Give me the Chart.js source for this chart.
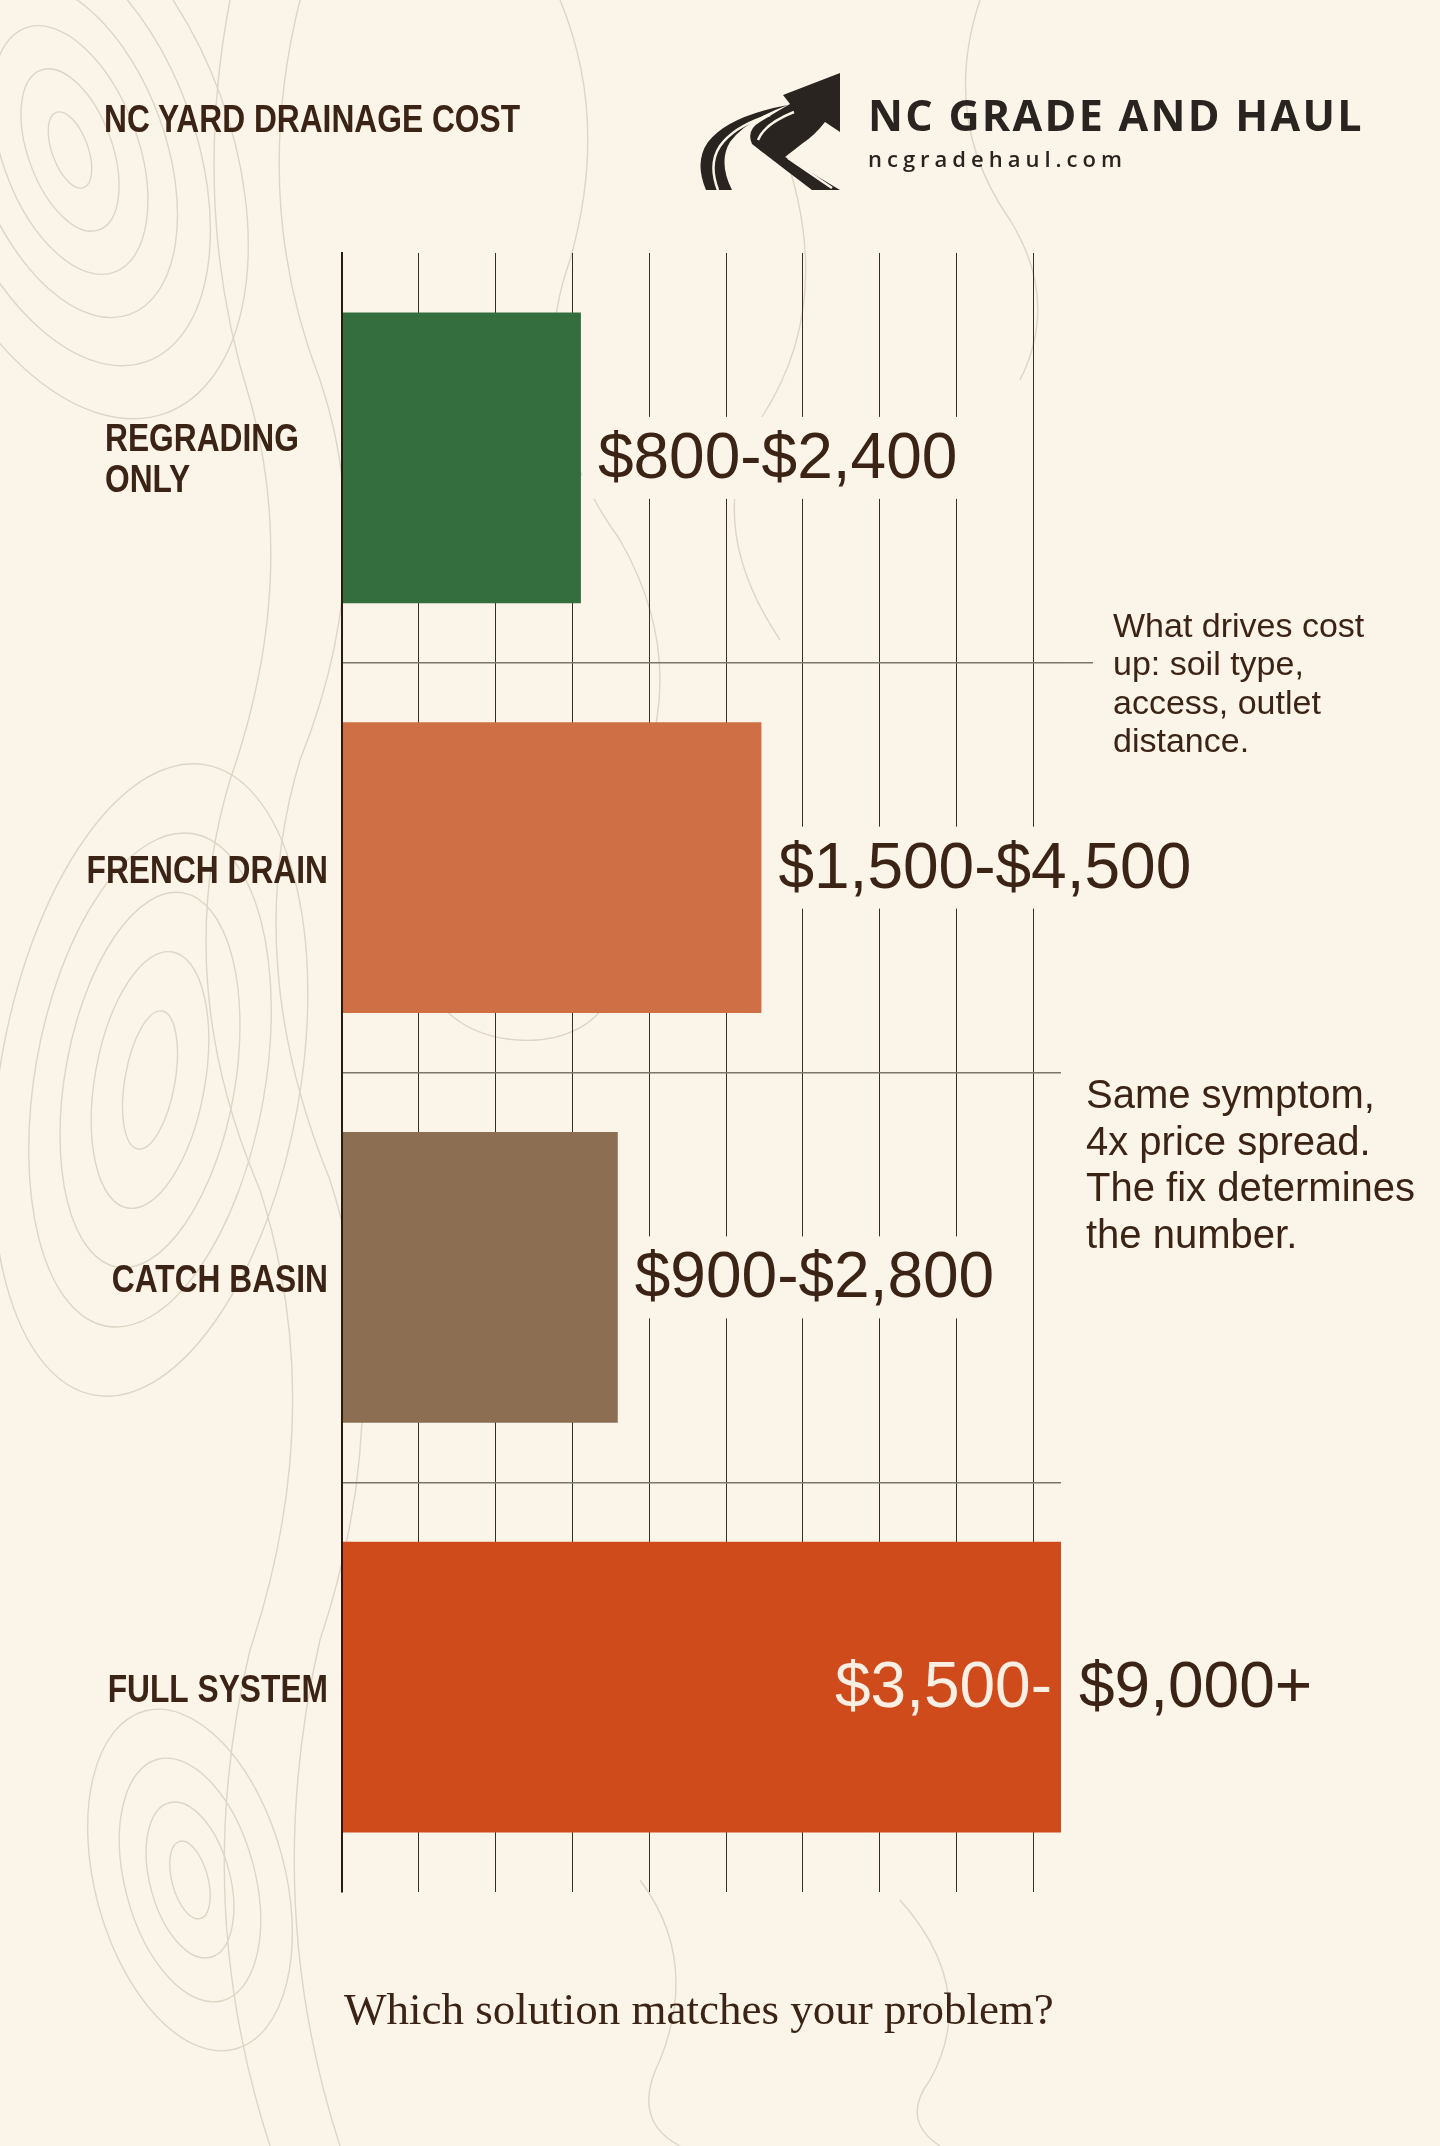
<!DOCTYPE html>
<html>
<head>
<meta charset="utf-8">
<title>NC Yard Drainage Cost</title>
<script src="https://cdn.jsdelivr.net/npm/chart.js@4.4.1/dist/chart.umd.min.js"></script>
<style>
  html, body { margin: 0; padding: 0; }
  body {
    width: 1440px; height: 2146px; position: relative; overflow: hidden;
    background: #fbf5e9; color: #3b2416;
    font-family: "Liberation Sans", Arial, sans-serif;
  }
  #topo, #chart, #logo { position: absolute; left: 0; top: 0; }
  .title {
    position: absolute; left: 104px; top: 100px; white-space: nowrap;
    font: bold 38px/38px "Liberation Sans", Arial, sans-serif;
    transform: scaleX(0.835); transform-origin: 0 0;
  }
  .brand {
    position: absolute; left: 868px; top: 93px; white-space: nowrap; color: #2a2421;
    font: bold 43px/43px "Open Sans", sans-serif; letter-spacing: 2.3px;
  }
  .url {
    position: absolute; left: 868px; top: 147px; white-space: nowrap; color: #2a2421;
    font: 600 22px/22px "Open Sans", sans-serif; letter-spacing: 5px;
  }
  .note1 { position: absolute; left: 1113px; top: 606px; font-size: 34px; line-height: 38.3px; }
  .note2 { position: absolute; left: 1086px; top: 1071px; font-size: 40px; line-height: 46.5px; }
  .footer {
    position: absolute; left: 344px; top: 1987px; white-space: nowrap;
    font: 45px/44px "Liberation Serif", serif;
  }
</style>
</head>
<body>
<svg id="topo" width="1440" height="2146" viewBox="0 0 1440 2146">
  <g fill="none" stroke="#ddd5c5" stroke-width="1.4">
    <g transform="translate(70 150) rotate(-20)">
      <ellipse rx="18" ry="40"/><ellipse rx="42" ry="85"/><ellipse rx="68" ry="130"/>
      <ellipse rx="95" ry="175"/><ellipse rx="125" ry="225"/><ellipse rx="160" ry="280"/>
    </g>
    <g transform="translate(150 1080) rotate(10)">
      <ellipse rx="25" ry="70"/><ellipse rx="55" ry="130"/><ellipse rx="85" ry="190"/>
      <ellipse rx="115" ry="250"/><ellipse rx="150" ry="320"/>
    </g>
    <g transform="translate(190 1880) rotate(-15)">
      <ellipse rx="18" ry="40"/><ellipse rx="40" ry="80"/><ellipse rx="65" ry="125"/>
      <ellipse rx="95" ry="175"/>
    </g>
    <g transform="translate(520 980) rotate(5)">
      <ellipse rx="40" ry="25"/><ellipse rx="90" ry="60"/>
    </g>
    <path d="M300 0 Q 250 200 320 380 Q 380 560 300 760 Q 240 960 330 1180 Q 400 1400 320 1640 Q 260 1900 340 2146"/>
    <path d="M230 0 Q 190 210 250 400 Q 300 580 230 780 Q 170 980 260 1190 Q 330 1410 250 1650 Q 190 1900 270 2146"/>
    <path d="M560 0 Q 610 120 570 260 Q 520 400 620 540 Q 700 680 620 820"/>
    <path d="M780 140 Q 840 300 760 420 Q 700 520 780 640"/>
    <path d="M640 1880 Q 700 1960 660 2060 Q 630 2120 680 2146"/>
    <path d="M900 1900 Q 980 1990 930 2080 Q 900 2120 940 2146"/>
    <path d="M980 0 Q 940 120 1010 220 Q 1060 300 1020 380"/>
  </g>
</svg>

<canvas id="chart" width="1440" height="2146"></canvas>

<svg id="logo" width="1440" height="260" viewBox="0 0 1440 260">
  <g transform="translate(690 60)" fill="#2a2421">
    <path d="M100 44 L93 35 L150 13 L150 72 L135 62 Q125 75 113 83 L95 97 L150 130 L122 130 Q90 106 62 84 Q56 70 70 62 Q86 52 100 44 Z"/>
    <path d="M16 130 Q4 102 18 82 Q38 56 98 45 Q56 60 40 82 Q28 102 42 130 Z"/>
    <path d="M28 130 Q18 104 30 86 Q44 66 80 55" stroke="#fbf5e9" stroke-width="2.5" fill="none"/>
    <path d="M68 80 Q74 64 104 52" stroke="#fbf5e9" stroke-width="2.5" fill="none"/>
    <path d="M98 98 L142 128" stroke="#fbf5e9" stroke-width="2.5" fill="none"/>
  </g>
</svg>

<div class="title">NC YARD DRAINAGE COST</div>
<div class="brand">NC GRADE AND HAUL</div>
<div class="url">ncgradehaul.com</div>
<div class="note1">What drives cost<br>up: soil type,<br>access, outlet<br>distance.</div>
<div class="note2">Same symptom,<br>4x price spread.<br>The fix determines<br>the number.</div>
<div class="footer">Which solution matches your problem?</div>

<script>
// bars, top to bottom
const categories = [["REGRADING", "ONLY"], "FRENCH DRAIN", "CATCH BASIN", "FULL SYSTEM"];
// bar lengths read against the vertical gridlines (one gridline = one unit)
const barLengths = [3.11, 5.46, 3.59, 9.36];
const lowCost = [800, 1500, 900, 3500];
const highCost = [2400, 4500, 2800, 9000];
const barColors = ["#356e3e", "#cf6f46", "#8c6f52", "#cf4b1c"];

const paper = "#fbf5e9";
const ink = "#3b2416";

function money(n) {
  return "$" + n.toLocaleString("en-US");
}

// draw narrow bold text (no condensed face installed, so squeeze it)
function narrowText(ctx, text, x, y, align) {
  ctx.save();
  ctx.translate(x, y);
  ctx.scale(0.835, 1);
  ctx.textAlign = align;
  ctx.fillText(text, 0, 0);
  ctx.restore();
}

const barLabels = {
  id: "barLabels",
  afterDatasetsDraw(chart) {
    const { ctx, chartArea } = chart;
    const meta = chart.getDatasetMeta(0);
    const last = categories.length - 1;
    ctx.save();
    ctx.font = "64px 'Liberation Sans', Arial, sans-serif";
    ctx.textBaseline = "alphabetic";
    meta.data.forEach((bar, i) => {
      const base = bar.y + 20;
      const low = money(lowCost[i]) + "-";
      const high = money(highCost[i]) + (i === last ? "+" : "");
      if (i === last) {
        ctx.fillStyle = "#fbeee2";
        ctx.textAlign = "right";
        ctx.fillText(low, bar.x - 9, base);
        ctx.fillStyle = ink;
        ctx.textAlign = "left";
        ctx.fillText(high, bar.x + 18, base);
      } else {
        const text = low + high;
        const w = ctx.measureText(text).width;
        ctx.fillStyle = paper;
        ctx.fillRect(bar.x + 1, bar.y - 41, w + 28, 82);
        ctx.fillStyle = ink;
        ctx.textAlign = "left";
        ctx.fillText(text, bar.x + 17, base);
      }
    });

    // category names left of the axis
    ctx.font = "bold 38px 'Liberation Sans', Arial, sans-serif";
    ctx.fillStyle = ink;
    const y = chart.scales.y;
    categories.forEach((c, i) => {
      const cy = y.getPixelForValue(i);
      if (Array.isArray(c)) {
        c.forEach((line, j) => narrowText(ctx, line, 105, cy - 6.5 + j * 40.6, "left"));
      } else {
        narrowText(ctx, c, chartArea.left - 14, cy + 15, "right");
      }
    });

    // first divider runs on past the plot, under the note
    const y01 = (y.getPixelForValue(0) + y.getPixelForValue(1)) / 2;
    ctx.strokeStyle = "#7b766b";
    ctx.lineWidth = 1.5;
    ctx.beginPath();
    ctx.moveTo(chartArea.right, y01);
    ctx.lineTo(chartArea.right + 32, y01);
    ctx.stroke();
    ctx.restore();
  }
};

new Chart(document.getElementById("chart"), {
  type: "bar",
  data: {
    labels: categories,
    datasets: [{
      data: barLengths,
      backgroundColor: barColors,
      borderWidth: 0,
      barPercentage: 0.71,
      categoryPercentage: 1,
    }],
  },
  options: {
    indexAxis: "y",
    responsive: false,
    animation: false,
    devicePixelRatio: 1,
    layout: { padding: { left: 342, right: 379, top: 253, bottom: 254 } },
    plugins: { legend: { display: false }, tooltip: { enabled: false } },
    scales: {
      x: {
        min: 0,
        max: 9.36,
        ticks: { display: false, stepSize: 1, includeBounds: false },
        grid: { color: "#3d2c21", lineWidth: 1, drawTicks: false },
        border: { display: false },
      },
      y: {
        ticks: { display: false },
        grid: {
          offset: true,
          drawTicks: false,
          z: 1,
          lineWidth: 1.5,
          color: (c) => (c.index === undefined || c.index === 0 || c.index >= categories.length)
            ? "rgba(0,0,0,0)" : "#7b766b",
        },
        border: { display: true, color: "#2b1a10", width: 2, z: 1 },
      },
    },
  },
  plugins: [barLabels],
});
</script>
</body>
</html>
